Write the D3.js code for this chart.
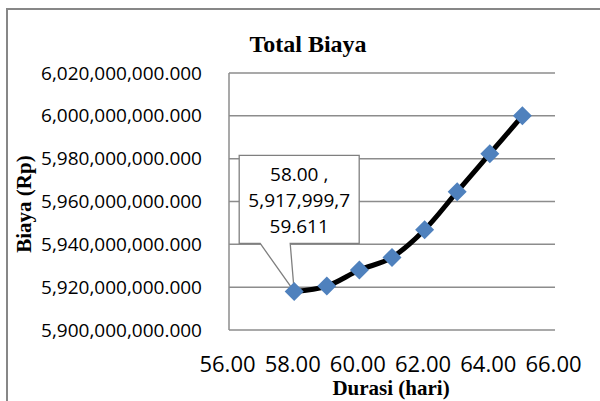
<!DOCTYPE html>
<html>
<head>
<meta charset="utf-8">
<script src="https://cdn.jsdelivr.net/npm/d3@7"></script>
<style>
  html, body { margin: 0; padding: 0; background: #fff; }
  svg { display: block; }
</style>
</head>
<body>
<div id="graph"></div>
<script>
// data
let durasi = [58, 59, 60, 61, 62, 63, 64, 65];
let biaya  = [5917999759.611, 5920500000, 5928000000, 5933900000,
              5946800000, 5964600000, 5982300000, 6000000000];
let xTicks = [56, 58, 60, 62, 64, 66];
let yTicks = [5900000000, 5920000000, 5940000000, 5960000000,
              5980000000, 6000000000, 6020000000];
let calloutLines = ["58.00 ,", "5,917,999,7", "59.611"];
let calloutIndex = 0;

let width = 600, height = 401;
let plot = { left: 229, right: 555, top: 73, bottom: 330 };

let svg = d3.select("#graph")
  .append("svg")
  .attr("width", width)
  .attr("height", height);

// chart border (runs off the right/bottom edge)
svg.append("rect")
  .attr("x", 7).attr("y", 9)
  .attr("width", 640).attr("height", 440)
  .attr("fill", "#fff")
  .attr("stroke", "#878787")
  .attr("stroke-width", 2);

let x = d3.scaleLinear().domain([56, 66]).range([plot.left, plot.right]);
let y = d3.scaleLinear().domain([5900000000, 6020000000]).range([plot.bottom, plot.top]);

// gridlines
svg.append("g")
  .selectAll("line")
  .data(yTicks)
  .enter().append("line")
  .attr("x1", plot.left).attr("x2", plot.right)
  .attr("y1", d => y(d)).attr("y2", d => y(d))
  .attr("stroke", "#8c8c8c")
  .attr("stroke-width", 1.5);

// left axis line
svg.append("line")
  .attr("x1", plot.left).attr("x2", plot.left)
  .attr("y1", plot.top).attr("y2", plot.bottom)
  .attr("stroke", "#8c8c8c")
  .attr("stroke-width", 1.5);

// y tick labels
let fmtY = d3.format(",.3f");
svg.append("g")
  .selectAll("text")
  .data(yTicks)
  .enter().append("text")
  .attr("x", 202)
  .attr("y", d => y(d) + 6.5)
  .attr("text-anchor", "end")
  .style("font-family", "'Open Sans', sans-serif")
  .style("font-size", "19px")
  .attr("fill", "#000")
  .text(d => fmtY(d));

// x tick labels
let fmtX = d3.format(".2f");
svg.append("g")
  .selectAll("text")
  .data(xTicks)
  .enter().append("text")
  .attr("x", d => x(d) - 1.5)
  .attr("y", 372)
  .attr("text-anchor", "middle")
  .style("font-family", "'Open Sans', sans-serif")
  .style("font-size", "22px")
  .attr("fill", "#000")
  .text(d => fmtX(d));

// titles
svg.append("text")
  .attr("x", 308).attr("y", 52)
  .attr("text-anchor", "middle")
  .style("font-family", "'Liberation Serif', 'Times New Roman', serif")
  .style("font-weight", "bold")
  .style("font-size", "24px")
  .text("Total Biaya");

svg.append("text")
  .attr("x", 391).attr("y", 395)
  .attr("text-anchor", "middle")
  .style("font-family", "'Liberation Serif', 'Times New Roman', serif")
  .style("font-weight", "bold")
  .style("font-size", "21px")
  .text("Durasi (hari)");

svg.append("text")
  .attr("transform", "translate(31,204) rotate(-90)")
  .attr("text-anchor", "middle")
  .style("font-family", "'Liberation Serif', 'Times New Roman', serif")
  .style("font-weight", "bold")
  .style("font-size", "21px")
  .text("Biaya (Rp)");

// series line (smoothed like the spreadsheet)
let data = durasi.map((d, i) => ({ x: d, y: biaya[i] }));
let line = d3.line()
  .x(d => x(d.x))
  .y(d => y(d.y))
  .curve(d3.curveCatmullRom.alpha(0));

svg.append("path")
  .datum(data)
  .attr("d", line)
  .attr("fill", "none")
  .attr("stroke", "#000")
  .attr("stroke-width", 5)
  .attr("stroke-linejoin", "round");

// callout for the first point
let tip = data[calloutIndex];
let tx = x(tip.x), ty = y(tip.y);
let box = { x0: tx - 55, x1: tx + 65, y0: ty - 136, y1: ty - 48 };
let co = svg.append("g");
co.append("path")
  .attr("d", `M${box.x0},${box.y0} H${box.x1} V${box.y1} H${tx - 4} L${tx},${ty} L${tx - 34},${box.y1} H${box.x0} Z`)
  .attr("fill", "#fff")
  .attr("stroke", "#7f7f7f")
  .attr("stroke-width", 1.3);
co.selectAll("text")
  .data(calloutLines)
  .enter().append("text")
  .attr("x", (box.x0 + box.x1) / 2)
  .attr("y", (d, i) => box.y0 + 26 + i * 26)
  .attr("text-anchor", "middle")
  .style("font-family", "'Open Sans', sans-serif")
  .style("font-size", "19px")
  .text(d => d);

// diamond markers
svg.append("g")
  .selectAll("path")
  .data(data)
  .enter().append("path")
  .attr("transform", d => `translate(${x(d.x)},${y(d.y)})`)
  .attr("d", "M0,-9.5 L9.5,0 L0,9.5 L-9.5,0 Z")
  .attr("fill", "#4f81bd");
</script>
</body>
</html>
